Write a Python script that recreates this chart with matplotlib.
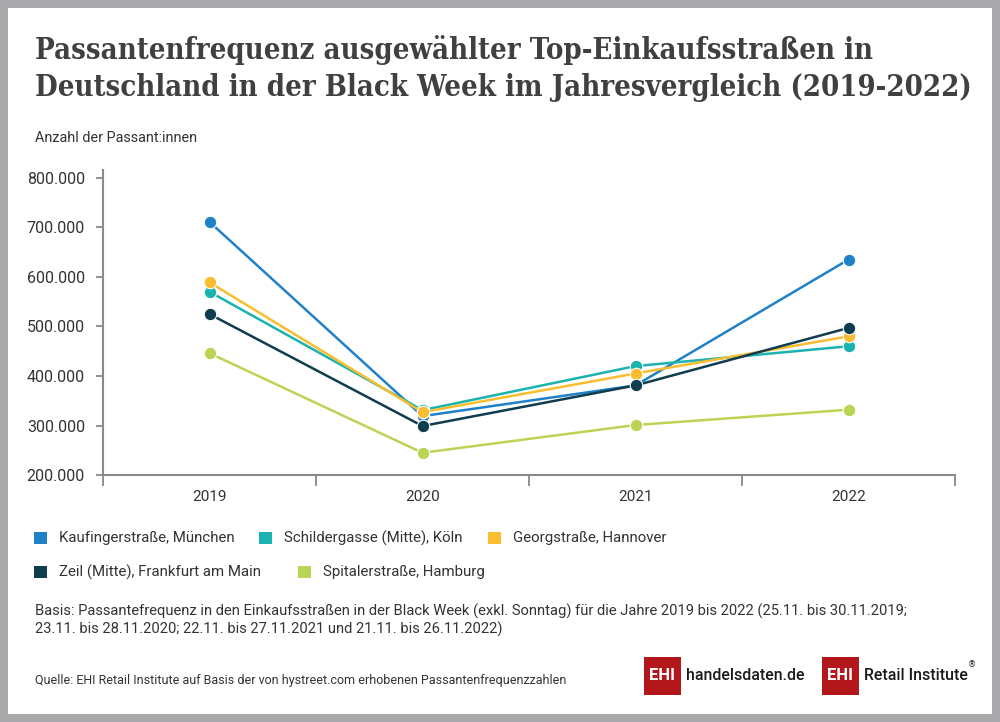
import matplotlib
matplotlib.use('Agg')
import matplotlib.pyplot as plt
from matplotlib.patches import Rectangle
from matplotlib.ticker import FuncFormatter, FixedLocator

years = ['2019', '2020', '2021', '2022']
streets = ['Kaufingerstraße, München', 'Schildergasse (Mitte), Köln', 'Georgstraße, Hannover',
           'Zeil (Mitte), Frankfurt am Main', 'Spitalerstraße, Hamburg']
kaufinger = [711000, 319000, 381000, 635000]
schildergasse = [570000, 331000, 420000, 460000]
georg = [589000, 327000, 405000, 480000]
zeil = [525000, 299000, 381000, 497000]
spitaler = [446000, 245000, 301000, 332000]
colors = ['#1f82c8', '#1bb3b0', '#f9bd2f', '#0f3c4e', '#bad453']
series = [kaufinger, schildergasse, georg, zeil, spitaler]

sans = 'Roboto'
txt = '#333333'

fig = plt.figure(figsize=(10, 7.22), dpi=100)
fig.patch.set_facecolor('#a9a9ab')
fig.patches.append(Rectangle((0.008, 0.011), 0.984, 0.978, transform=fig.transFigure,
                             facecolor='white', edgecolor='none', zorder=-10))

# title
fig.text(0.035, 0.951, 'Passantenfrequenz ausgewählter Top-Einkaufsstraßen in\n'
         'Deutschland in der Black Week im Jahresvergleich (2019-2022)',
         fontsize=21, fontweight='bold', family='DejaVu Serif', stretch='condensed',
         color='#404040', va='top', ha='left', linespacing=1.32)
fig.text(0.035, 0.803, 'Anzahl der Passant:innen', fontsize=10.4, family=sans, color=txt)

ax = fig.add_axes([0.103, 0.342, 0.852, 0.422])
for vals, c, name in zip(series, colors, streets):
    ax.plot(range(len(years)), vals, color=c, lw=1.8, marker='o', ms=9,
            markeredgecolor='white', markeredgewidth=0.8, label=name)

ax.set_xlim(-0.5, 3.5)
ax.set_ylim(200000, 815000)
ax.set_yticks([200000, 300000, 400000, 500000, 600000, 700000, 800000])
ax.yaxis.set_major_formatter(FuncFormatter(lambda v, p: f'{int(v):,}'.replace(',', '.')))
ax.set_xticks(range(len(years)))
ax.set_xticklabels(years)
ax.xaxis.set_minor_locator(FixedLocator([-0.5, 0.5, 1.5, 2.5, 3.5]))
ax.tick_params(axis='x', which='major', length=0, pad=11, labelsize=11, labelcolor=txt)
ax.tick_params(axis='x', which='minor', length=8, width=1.3, color='#8a8a8a')
ax.tick_params(axis='y', length=5, width=1.3, color='#8a8a8a', labelsize=11.5,
               labelcolor=txt, pad=8)
for lab in ax.get_xticklabels() + ax.get_yticklabels():
    lab.set_family(sans)
for s in ['top', 'right']:
    ax.spines[s].set_visible(False)
for s in ['left', 'bottom']:
    ax.spines[s].set_color('#8a8a8a')
    ax.spines[s].set_linewidth(1.5)

# legend drawn by hand, flowing like the reference
leg_pos = [(34, 538), (259, 538), (488, 538), (34, 572), (298, 572)]
for (px, py), name, c in zip(leg_pos, streets, colors):
    x, y = px / 1000, 1 - py / 722
    fig.patches.append(Rectangle((x, y - 0.009), 0.013, 0.018, transform=fig.transFigure,
                                 facecolor=c, edgecolor='none'))
    fig.text(x + 0.025, y, name, fontsize=10.8, family=sans, color=txt,
             va='center', ha='left')

fig.text(0.035, 0.164, 'Basis: Passantefrequenz in den Einkaufsstraßen in der Black Week '
         '(exkl. Sonntag) für die Jahre 2019 bis 2022 (25.11. bis 30.11.2019;\n'
         '23.11. bis 28.11.2020; 22.11. bis 27.11.2021 und 21.11. bis 26.11.2022)',
         fontsize=10.6, family=sans, color=txt, va='top', ha='left', linespacing=1.25)
fig.text(0.035, 0.058, 'Quelle: EHI Retail Institute auf Basis der von hystreet.com erhobenen '
         'Passantenfrequenzzahlen', fontsize=9, family=sans, color=txt, va='center', ha='left')

# logos
red = '#b3171c'
for bx, label in [(0.644, 'handelsdaten.de'), (0.822, 'Retail Institute')]:
    fig.patches.append(Rectangle((bx, 0.038), 0.037, 0.052, transform=fig.transFigure,
                                 facecolor=red, edgecolor='none'))
    fig.text(bx + 0.0185, 0.064, 'EHI', color='white', fontsize=12, fontweight='bold',
             family='Roboto', ha='center', va='center')
    fig.text(bx + 0.042, 0.064, label, color='#1a1a1a', fontsize=11.4, family='Roboto',
             ha='left', va='center', fontweight='medium')
fig.text(0.968, 0.080, '®', color='#1a1a1a', fontsize=6, family='DejaVu Sans',
         ha='left', va='center')

fig.savefig('out.png', dpi=100)
